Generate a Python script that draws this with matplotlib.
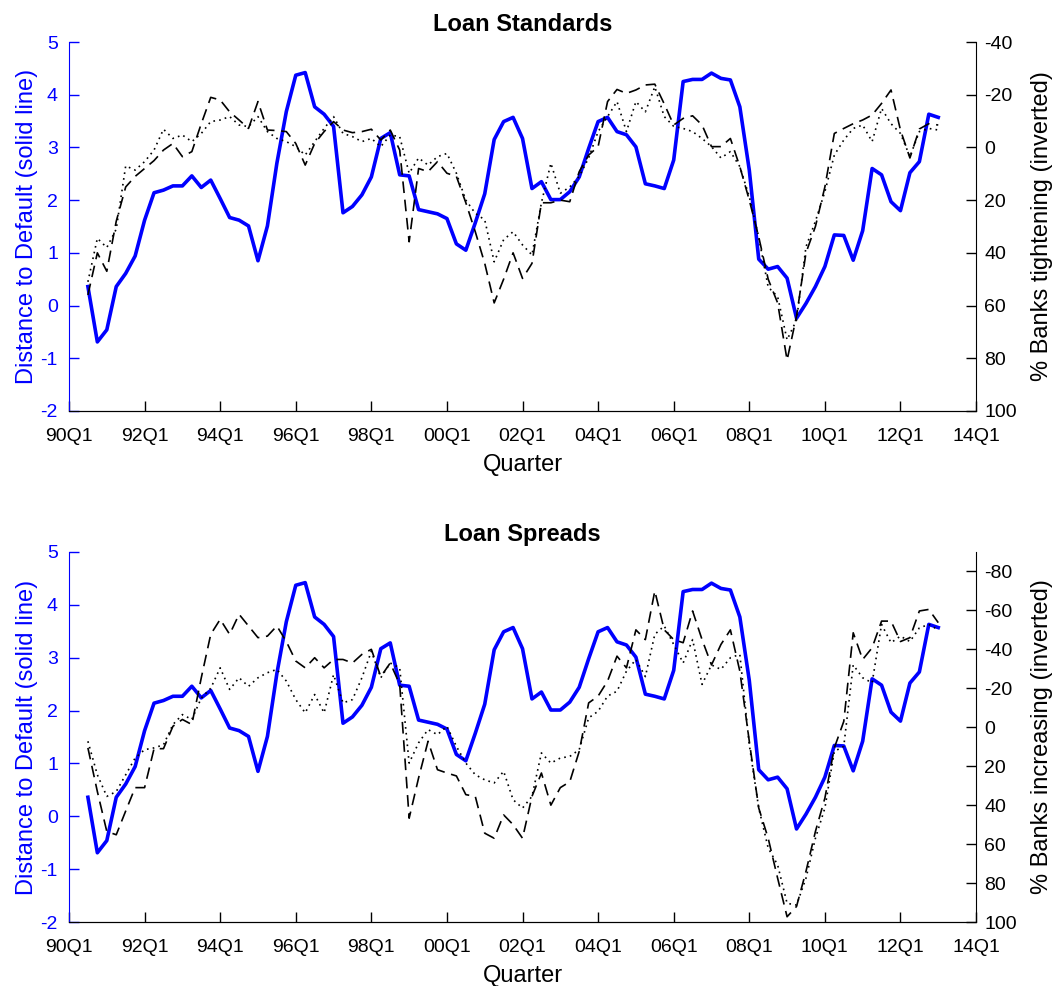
import matplotlib.pyplot as plt
import numpy as np

plt.rcParams['font.family'] = ['Liberation Sans', 'DejaVu Sans']
plt.rcParams['axes.unicode_minus'] = False

# quarters counted from 90Q1 (=0); series run 90Q3 .. 13Q1
q_start = 2
tick_labels = ['90Q1', '92Q1', '94Q1', '96Q1', '98Q1', '00Q1', '02Q1', '04Q1',
               '06Q1', '08Q1', '10Q1', '12Q1', '14Q1']

# distance to default (left axis)
dtd = [0.36, -0.69, -0.46, 0.36, 0.61, 0.94, 1.62, 2.14, 2.19, 2.27, 2.27, 2.46,
       2.24, 2.38, 2.03, 1.67, 1.62, 1.51, 0.85, 1.51, 2.70, 3.68, 4.37, 4.42,
       3.77, 3.63, 3.40, 1.76, 1.88, 2.10, 2.44, 3.17, 3.28, 2.48, 2.46, 1.82,
       1.78, 1.74, 1.65, 1.17, 1.05, 1.57, 2.12, 3.15, 3.49, 3.57, 3.17, 2.22,
       2.35, 2.01, 2.01, 2.16, 2.44, 2.98, 3.49, 3.57, 3.30, 3.24, 3.01, 2.31,
       2.27, 2.22, 2.76, 4.25, 4.29, 4.29, 4.41, 4.31, 4.28, 3.77, 2.57, 0.88,
       0.69, 0.74, 0.52, -0.24, 0.04, 0.36, 0.74, 1.34, 1.33, 0.86, 1.42, 2.60,
       2.48, 1.97, 1.80, 2.52, 2.73, 3.63, 3.57]

# loan standards, % banks tightening (dashed / dotted)
std_dash = [56, 40, 47, 28, 15, 11, 8, 5, 1, -1.5, 3.5, 1.6, -9, -19, -18, -13.5,
            -10.4, -7.2, -17.4, -6.6, -6.4, -6, -1.5, 6.7, -1.5, -6, -9.8, -6.6,
            -5.6, -6, -6.9, -2.8, -6.6, 1, 35.8, 8, 9.2, 5.4, 9.8, 11, 21, 32, 44,
            59, 50, 40, 49.7, 44, 21, 21, 20, 20.6, 9.2, 2.9, -0.3, -17.4, -22,
            -20.5, -21.8, -23.7, -24, -16.5, -8.5, -11, -12, -8.5, -0.3, -0.3,
            -3.4, 7.3, 20, 34, 50, 59, 80.7, 64, 40, 30, 15, -5.3, -7.2, -9,
            -10.4, -12.3, -16.7, -21.8, -6.6, 4, -7, -9, -8.5]
std_dot = [51, 34.5, 38, 31, 7, 8.6, 5.4, 1, -6.9, -3.4, -4.7, -2.2, -5.3, -9.8,
           -10.4, -11.7, -8.5, -7.9, -11.7, -6, -3.4, -2.2, -0.3, 2.9, -2.2, -7.2,
           -11.7, -5.3, -4.1, -2.2, -3.4, -0.3, -4.7, -4.1, 9.8, 4, 6.7, 3.5, 2.3,
           9.8, 20, 25, 27.5, 43.4, 35, 32, 37, 40.8, 21, 6, 17.4, 15, 11, 4, -6,
           -11.7, -17.4, -6, -17.4, -13.5, -23, -11.7, -8, -7.2, -6, -3.4, -0.3,
           4, 1.6, 7.3, 18.7, 34, 53, 56.6, 73, 65.5, 37.7, 28, 16.8, 2.9, -2.8,
           -7.2, -8.5, -2.2, -14.8, -9, -5.3, 3.5, -6, -7.2, -6.6]

# loan spreads, % banks increasing (dashed / dotted)
spr_dash = [10.6, 33, 53.5, 55.2, 43, 31, 31, 11, 11, -0.5, -4, -1.4, -25.4, -47.7,
            -55.4, -47.7, -58, -52, -46, -46.8, -52, -44, -34, -30.5, -35.7, -30.5,
            -34.8, -34.8, -33, -37.4, -40, -26, -33, -22, 46.7, 26, 7.2, 21.8, 23.5,
            25, 34.6, 35.5, 54.4, 57, 45, 50, 57, 35.5, 23.5, 40, 31, 28, 12.4,
            -12.5, -16, -23.7, -36.5, -30.5, -50, -45, -70, -50, -45, -43.4, -59.7,
            -45, -32, -42.5, -50, -28.8, 7.2, 41.5, 57, 77.5, 97.3, 92, 74, 53.5,
            36.4, 10.6, -3, -48.5, -34.8, -40.8, -54.5, -54.5, -44, -46, -59.7,
            -60.5, -53.7]
spr_dot = [7.2, 24.4, 35.5, 33, 24.4, 15.8, 11.5, 10.6, 9, -1.4, -6.5, -4, -15, -20,
           -30.5, -19.4, -25.4, -21, -25.4, -28, -29.7, -23.7, -14.2, -7.4, -16.8,
           -7.4, -27, -12.5, -14.2, -25.4, -39, -25.4, -33, -30.5, 18.4, 8, 1.2,
           3.8, -0.5, 9.8, 18.4, 24.4, 27, 28.6, 22.6, 37.2, 41.5, 35.5, 13.2, 18.4,
           15.8, 15, 11.5, -4.8, -8.2, -16, -18.5, -28.8, -34.8, -26, -47.7, -52,
           -42.5, -33, -45, -22, -32, -29.7, -35.7, -37.4, 9, 41.5, 62, 70.7, 90.4,
           91.3, 77.5, 57, 41.5, 12.4, 9.8, -32, -25.4, -22.8, -52.8, -43.4, -46.8,
           -44, -51, -52.8, -50]

x = np.arange(q_start, q_start + len(dtd))
blue = '#0000ff'

fig = plt.figure(figsize=(10.6, 9.86), dpi=100)
panels = [
    ([0.0651, 0.5832, 0.8557, 0.3742], 'Loan Standards', std_dash, std_dot,
     '% Banks tightening (inverted)', (100, -40), np.arange(-40, 101, 20)),
    ([0.0651, 0.0649, 0.8557, 0.3753], 'Loan Spreads', spr_dash, spr_dot,
     '% Banks increasing (inverted)', (100, -90), np.arange(-80, 101, 20)),
]

for rect, title, dash, dot, rlabel, rlim, rticks in panels:
    ax = fig.add_axes(rect)
    ax.plot(x, dtd, color=blue, lw=2.6, zorder=3)
    ax.set_xlim(0, 96)
    ax.set_ylim(-2, 5)
    ax.set_yticks(range(-2, 6))
    ax.set_xticks(range(0, 97, 8))
    ax.set_xticklabels(tick_labels)
    ax.tick_params(axis='x', direction='in', length=7, width=1, labelsize=14, pad=12)
    ax.tick_params(axis='y', direction='in', length=7, width=1, labelsize=14,
                   colors=blue, pad=8)
    ax.spines['left'].set_color(blue)
    ax.spines['top'].set_visible(False)
    ax.spines['right'].set_visible(False)
    ax.set_ylabel('Distance to Default (solid line)', color=blue, fontsize=17, labelpad=2)
    ax.set_xlabel('Quarter', fontsize=17, labelpad=7)
    ax.set_title(title, fontsize=17, fontweight='bold', pad=8)

    ax2 = ax.twinx()
    ax2.plot(x, dash, color='black', lw=1.2, dashes=(7, 4))
    ax2.plot(x, dot, color='black', lw=1.2, dashes=(1, 2.5))
    ax2.set_ylim(*rlim)
    ax2.set_yticks(rticks)
    ax2.tick_params(axis='y', direction='in', length=7, width=1, labelsize=14, pad=6)
    ax2.spines['top'].set_visible(False)
    ax2.spines['left'].set_visible(False)
    ax2.set_ylabel(rlabel, fontsize=17, labelpad=10)

fig.savefig('out.png', dpi=100)
